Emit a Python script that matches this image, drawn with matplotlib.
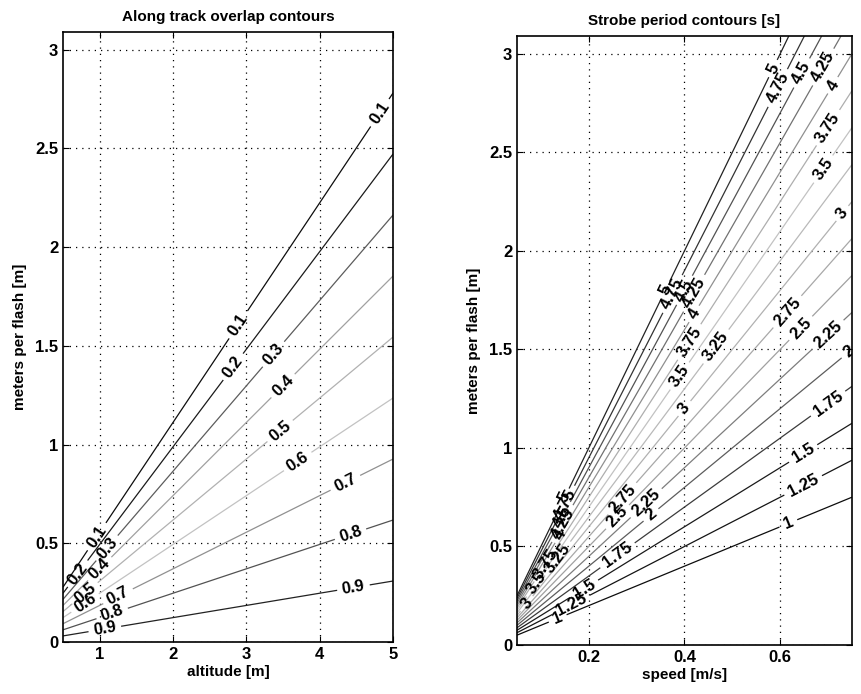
"""Along-track overlap and strobe period contour charts."""

import matplotlib

matplotlib.use("Agg")
import matplotlib.pyplot as plt
import numpy as np

plt.rcParams["font.family"] = ["Liberation Sans", "DejaVu Sans"]
plt.rcParams["font.weight"] = "bold"
plt.rcParams["axes.titleweight"] = "bold"
plt.rcParams["axes.labelweight"] = "bold"

# left panel: along track overlap
altitude_range = [0.5, 5.0]
flash_range = [0.0, 3.09]
footprint_per_altitude = 0.618  # along-track footprint [m] per metre altitude
overlap_levels = [0.1, 0.2, 0.3, 0.4, 0.5, 0.6, 0.7, 0.8, 0.9]

# right panel: strobe period
speed_range = [0.05, 0.75]
period_levels = [1, 1.25, 1.5, 1.75, 2, 2.25, 2.5, 2.75, 3, 3.25, 3.5, 3.75, 4, 4.25, 4.5, 4.75, 5]

# where the labels sit along each line (x value)
overlap_label_x = {
    0.1: [0.96, 2.89, 4.82], 0.2: [0.7, 2.82], 0.3: [1.1, 3.37], 0.4: [1.0, 3.5],
    0.5: [0.8, 3.46], 0.6: [0.8, 3.7], 0.7: [1.25, 4.35], 0.8: [1.17, 4.42], 0.9: [1.07, 4.46],
}
period_label_x = {
    1: [0.135, 0.617], 1.25: [0.163, 0.648], 1.5: [0.19, 0.648], 1.75: [0.26, 0.70],
    2: [0.33, 0.744], 2.25: [0.32, 0.70], 2.5: [0.26, 0.643], 2.75: [0.27, 0.615],
    3: [0.07, 0.40, 0.73], 3.25: [0.135, 0.466], 3.5: [0.09, 0.39, 0.69],
    3.75: [0.11, 0.41, 0.70], 4: [0.14, 0.42, 0.71], 4.25: [0.145, 0.42, 0.69],
    4.5: [0.145, 0.40, 0.645], 4.75: [0.15, 0.375, 0.595], 5: [0.15, 0.36, 0.585],
}


def jet_gray(n):
    """MATLAB jet colormap as it looks after grayscale printing."""
    rgb = plt.get_cmap("jet")(np.linspace(0, 1, n))[:, :3]
    lum = rgb @ np.array([0.299, 0.587, 0.114])
    return [str(min(0.82, 0.88 * v)) for v in lum]


def label_points(cs, levels, label_x):
    points = []
    for level, segs in zip(levels, cs.allsegs):
        verts = np.vstack(segs)
        order = np.argsort(verts[:, 0])
        for x in label_x[level]:
            points.append((x, np.interp(x, verts[order, 0], verts[order, 1])))
    return points


def style_axes(ax):
    ax.grid(True, linestyle=(0, (1, 4)), color="black", linewidth=0.9)
    ax.tick_params(direction="in", top=True, right=True, length=4, labelsize=12)
    for spine in ax.spines.values():
        spine.set_linewidth(1.2)


fig = plt.figure(figsize=(8.61, 6.94), dpi=100)
ax_left = fig.add_axes([0.0732, 0.0749, 0.3833, 0.879])
ax_right = fig.add_axes([0.6005, 0.0706, 0.389, 0.8775])

# left: overlap = 1 - metres per flash / footprint
alt = np.linspace(*altitude_range, 400)
mpf = np.linspace(*flash_range, 400)
A, M = np.meshgrid(alt, mpf)
overlap = 1 - M / (footprint_per_altitude * A)
cs = ax_left.contour(A, M, overlap, levels=overlap_levels, colors=jet_gray(len(overlap_levels)),
                     linewidths=0.9)
ax_left.clabel(cs, fmt="%g", fontsize=12, manual=label_points(cs, overlap_levels, overlap_label_x),
               colors="black")
ax_left.set_xlim(altitude_range)
ax_left.set_ylim(flash_range)
ax_left.set_xticks([1, 2, 3, 4, 5])
ax_left.set_yticks([0, 0.5, 1, 1.5, 2, 2.5, 3])
ax_left.set_yticklabels(["0", "0.5", "1", "1.5", "2", "2.5", "3"])
ax_left.set_xlabel("altitude [m]", fontsize=11, labelpad=2)
ax_left.set_ylabel("meters per flash [m]", fontsize=11, labelpad=6)
ax_left.set_title("Along track overlap contours", fontsize=11, pad=8)
style_axes(ax_left)

# right: period = metres per flash / speed
spd = np.linspace(*speed_range, 400)
S, M2 = np.meshgrid(spd, mpf)
period = M2 / S
cs2 = ax_right.contour(S, M2, period, levels=period_levels, colors=jet_gray(len(period_levels)),
                       linewidths=0.9)
ax_right.clabel(cs2, fmt="%g", fontsize=12, manual=label_points(cs2, period_levels, period_label_x),
                colors="black")
ax_right.set_xlim(speed_range)
ax_right.set_ylim(flash_range)
ax_right.set_xticks([0.2, 0.4, 0.6])
ax_right.set_yticks([0, 0.5, 1, 1.5, 2, 2.5, 3])
ax_right.set_yticklabels(["0", "0.5", "1", "1.5", "2", "2.5", "3"])
ax_right.set_xlabel("speed [m/s]", fontsize=11, labelpad=2)
ax_right.set_ylabel("meters per flash [m]", fontsize=11, labelpad=6)
ax_right.set_title("Strobe period contours [s]", fontsize=11, pad=8)
style_axes(ax_right)

fig.savefig("out.png", dpi=100)
